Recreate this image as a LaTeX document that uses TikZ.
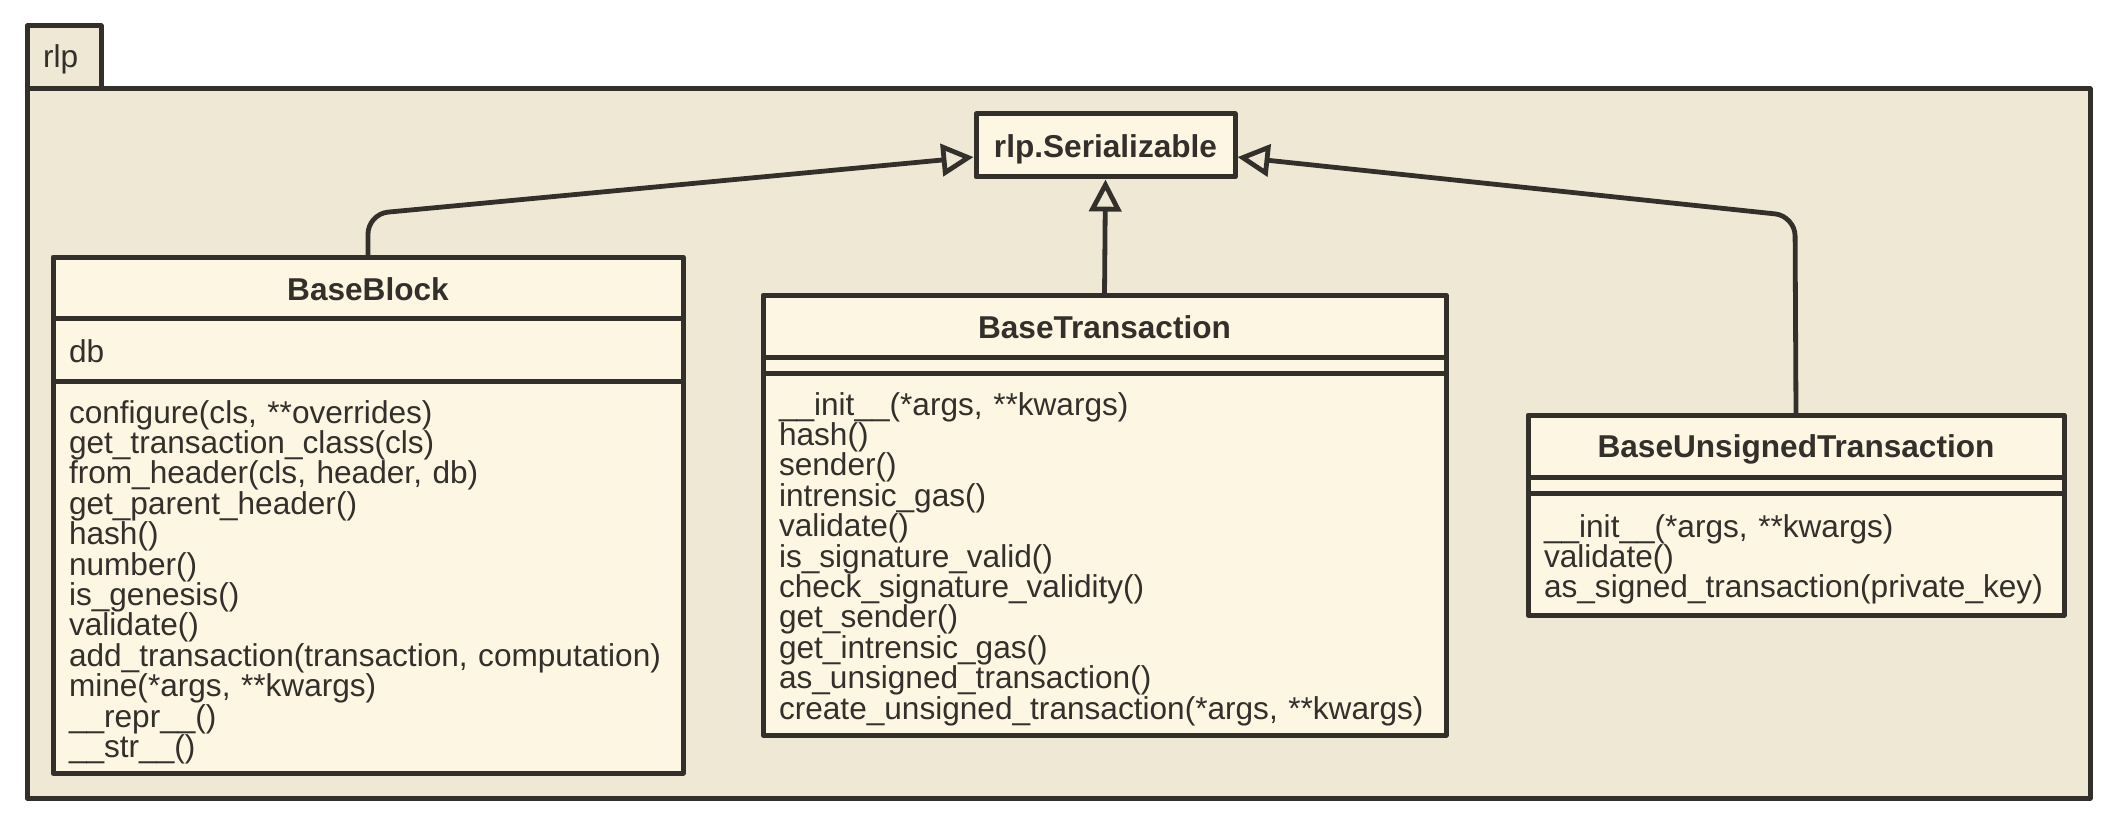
\documentclass[tikz,border=0pt]{standalone}
\usepackage{fontspec}
\setmainfont{Liberation Sans}
\usetikzlibrary{arrows.meta}
\usetikzlibrary{positioning}
\usetikzlibrary{calc}

\definecolor{umlline}{RGB}{51,48,44}
\definecolor{umlpackage}{RGB}{238,232,213}
\definecolor{umlclass}{RGB}{253,246,227}

\begin{document}
\begin{tikzpicture}[
	x=0.5pt, y=-0.5pt,
	color=umlline,
	line width=2.5pt,
	line join=round,
	font=\fontsize{15.8pt}{15.2pt}\selectfont]

\tikzstyle{classpart}=[draw=umlline, fill=umlclass, inner sep=0pt, outer sep=0pt, anchor=north west]
\tikzstyle{classhead}=[classpart, font=\fontsize{15.8pt}{15.2pt}\selectfont\bfseries, align=center]
\tikzstyle{classops}=[classpart, inner xsep=8pt, align=left]
\tikzstyle{inheritarrow}=[line width=2.4pt, rounded corners=10pt,
	-{Triangle[open, length=16pt, width=16pt]}, shorten >=1.25pt]

\def\BlockW{315pt}
\def\TxW{341.5pt}
\def\UnsignedW{268pt}

\useasboundingbox (0,0) rectangle (2116,824);

% package rlp
\node[draw, fill=umlpackage, inner xsep=8pt, inner ysep=0pt, outer sep=0pt, anchor=north west,
	text width=21pt, align=left, text height=21pt, text depth=10.5pt] (pkgtab) at (27,26) {rlp};
\node[draw, fill=umlpackage, inner sep=0pt, outer sep=0pt, anchor=north west,
	minimum width=1031.5pt, minimum height=354.5pt] (pkg) at (27,89) {};

% base class
\node[classhead, text width=129.5pt, text height=22pt, text depth=9.5pt] (ser) at (976,114) {rlp.Serializable};

% BaseBlock
\node[classhead, text width=\BlockW, text height=21.5pt, text depth=9pt] (blockhead) at (53,257) {BaseBlock};
\node[classops, text width=299pt, text height=22pt, text depth=9.5pt] (blockattr) at (53,318) {db};
\node[classops, text width=299pt, text height=21pt, text depth=175pt] (blockops) at (53,381) {%
configure(cls, **overrides)\\
get\_transaction\_class(cls)\\
from\_header(cls, header, db)\\
get\_parent\_header()\\
hash()\\
number()\\
is\_genesis()\\
validate()\\
add\_transaction(transaction, computation)\\
mine(*args, **kwargs)\\
\_\_repr\_\_()\\
\_\_str\_\_()};

% BaseTransaction
\node[classhead, text width=\TxW, text height=21.5pt, text depth=9.5pt] (txhead) at (763,295) {BaseTransaction};
\node[classpart, text width=\TxW, text height=8pt, text depth=0pt] (txattr) at (763,357) {};
\node[classops, text width=325.5pt, text height=21pt, text depth=160pt] (txops) at (763,373) {%
\_\_init\_\_(*args, **kwargs)\\
hash()\\
sender()\\
intrensic\_gas()\\
validate()\\
is\_signature\_valid()\\
check\_signature\_validity()\\
get\_sender()\\
get\_intrensic\_gas()\\
as\_unsigned\_transaction()\\
create\_unsigned\_transaction(*args, **kwargs)};

% BaseUnsignedTransaction
\node[classhead, text width=\UnsignedW, text height=21pt, text depth=10pt] (unsignedhead) at (1528,415) {BaseUnsignedTransaction};
\node[classpart, text width=\UnsignedW, text height=8pt, text depth=0pt] (unsignedattr) at (1528,477) {};
\node[classops, text width=252pt, text height=22pt, text depth=39pt] (unsignedops) at (1528,493) {%
\_\_init\_\_(*args, **kwargs)\\
validate()\\
as\_signed\_transaction(private\_key)};

% generalisation arrows
\coordinate (blockbend) at (368,214);
\coordinate (unsignedbend) at (1795,216);
\draw[inheritarrow] (blockhead.north) -- (blockbend) -- (ser.185);
\draw[inheritarrow] (txhead.north) -- (ser.south);
\draw[inheritarrow] (unsignedhead.north) -- (unsignedbend) -- (ser.355);

\end{tikzpicture}
\end{document}
